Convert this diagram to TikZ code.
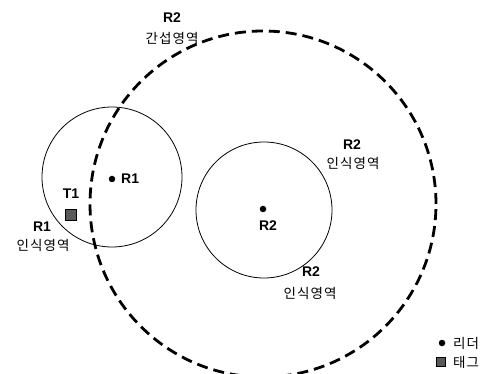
\documentclass[tikz,border=0pt]{standalone}
\usepackage{fontspec}
\setmainfont{Liberation Sans}
\newfontfamily\kor[LetterSpace=8]{Noto Sans CJK KR}
\begin{document}
\begin{tikzpicture}[x=1pt,y=-1pt,
  lbl/.style={font=\fontsize{14}{14}\selectfont\bfseries, inner sep=0pt},
  klbl/.style={font=\kor\fontsize{13.5}{13.5}\selectfont, inner sep=0pt},
  thincirc/.style={draw, line width=0.8pt},
  bigcirc/.style={draw, line width=2.8pt, dash pattern=on 11pt off 6pt},
  dotmark/.style={circle, fill=black, inner sep=0pt, minimum size=6.5pt},
  tagmark/.style={rectangle, draw=black, line width=0.6pt, fill=black!65, inner sep=0pt, minimum size=11pt}]
\useasboundingbox (0,0) rectangle (490,374);
\node[circle, bigcirc, minimum size=346pt, inner sep=0pt] (big) at (263,204) {};
\node[circle, thincirc, minimum size=140pt, inner sep=0pt] (c1) at (112,177) {};
\node[circle, thincirc, minimum size=136pt, inner sep=0pt] (c2) at (264,210) {};
\node[dotmark] (d1) at (112,179) {};
\node[lbl, anchor=west] (r1) at (121,179) {R1};
\node[dotmark] (d2) at (263,209) {};
\node[lbl] (r2) at (268,226) {R2};
\node[lbl] (t1) at (71,194) {T1};
\node[tagmark] (tag) at (71,215) {};
\node[lbl] (r1b) at (42,227) {R1};
\node[klbl] (r1k) at (43,245) {인식영역};
\node[lbl] (r2t) at (172,18) {R2};
\node[klbl] (r2tk) at (172,38) {간섭영역};
\node[lbl] (r2r) at (352,145) {R2};
\node[klbl] (r2rk) at (353,163) {인식영역};
\node[lbl] (r2b) at (311,272) {R2};
\node[klbl] (r2bk) at (310,293) {인식영역};
\node[dotmark] (ld) at (442,343) {};
\node[klbl, anchor=west] (ldt) at (453,343) {리더};
\node[tagmark, minimum size=9pt] (lt) at (441,362) {};
\node[klbl, anchor=west] (ltt) at (453,362) {태그};
\end{tikzpicture}
\end{document}
